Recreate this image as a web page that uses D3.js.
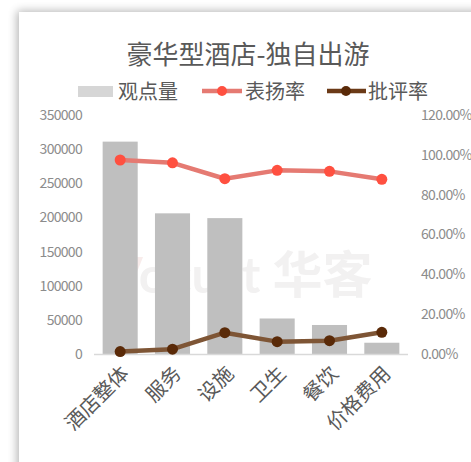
<!DOCTYPE html>
<html>
<head>
<meta charset="utf-8">
<script src="https://cdn.jsdelivr.net/npm/d3@7/dist/d3.min.js"></script>
<style>
  html, body { margin: 0; padding: 0; background: #fff; }
  svg { display: block; font-family: "Noto Sans CJK SC", "Noto Sans", sans-serif; }
</style>
</head>
<body>
<svg id="chart" width="471" height="462"></svg>
<script>
// Chart data
const categories = ["酒店整体", "服务", "设施", "卫生", "餐饮", "价格费用"];
const opinionCounts = [311000, 206000, 199000, 52000, 42500, 16500];
const praiseRates = [0.974, 0.960, 0.880, 0.922, 0.917, 0.877];
const criticismRates = [0.012, 0.024, 0.107, 0.062, 0.067, 0.109];
const leftTicks = [0, 50000, 100000, 150000, 200000, 250000, 300000, 350000];
const rightTicks = [0, 0.2, 0.4, 0.6, 0.8, 1.0, 1.2];
const titleText = "豪华型酒店-独自出游";
const legendLabels = ["观点量", "表扬率", "批评率"];

const svg = d3.select("#chart");

// Card with soft shadow
const defs = svg.append("defs");
const f = defs.append("filter").attr("id", "shadow")
  .attr("x", "-10%").attr("y", "-10%").attr("width", "130%").attr("height", "130%");
f.append("feGaussianBlur").attr("in", "SourceAlpha").attr("stdDeviation", 5).attr("result", "b");
f.append("feOffset").attr("in", "b").attr("dx", -2).attr("dy", -1).attr("result", "o");
f.append("feComponentTransfer").attr("in", "o").attr("result", "s")
  .append("feFuncA").attr("type", "linear").attr("slope", 0.3);
const m = f.append("feMerge");
m.append("feMergeNode").attr("in", "s");
m.append("feMergeNode").attr("in", "SourceGraphic");
svg.append("rect").attr("x", 19).attr("y", 12).attr("width", 480).attr("height", 480)
  .attr("fill", "#fff").attr("filter", "url(#shadow)");

const plot = { left: 94, right: 408, top: 115, bottom: 354 };

const x = d3.scaleBand().domain(categories).range([plot.left, plot.right])
  .paddingInner(0.33).paddingOuter(0.165);
const yL = d3.scaleLinear().domain([0, 350000]).range([plot.bottom, plot.top]);
const yR = d3.scaleLinear().domain([0, 1.2]).range([plot.bottom, plot.top]);

// Watermark
const wm = svg.append("text").attr("x", 108).attr("y", 293)
  .attr("font-family", "Lato, 'Noto Sans CJK SC', sans-serif").attr("font-weight", "bold")
  .attr("font-size", 50).attr("fill", "#f2f1f1");
wm.append("tspan").attr("fill", "#f8eceb").text("V");
wm.append("tspan").text("ocust 华客");

// Title
svg.append("text").attr("x", 248).attr("y", 64).attr("text-anchor", "middle")
  .attr("font-size", 26).attr("fill", "#595959").text(titleText);

// Legend
const lg = svg.append("g").attr("font-size", 20);
lg.append("rect").attr("x", 78).attr("y", 86).attr("width", 35).attr("height", 11).attr("fill", "#d6d6d6");
lg.append("text").attr("x", 118).attr("y", 99).attr("fill", "#595959").text(legendLabels[0]);
lg.append("line").attr("x1", 202).attr("x2", 242).attr("y1", 91).attr("y2", 91)
  .attr("stroke", "#e57a72").attr("stroke-width", 4.5);
lg.append("circle").attr("cx", 222).attr("cy", 91).attr("r", 5).attr("fill", "#ff5040");
lg.append("text").attr("x", 245).attr("y", 99).attr("fill", "#595959").text(legendLabels[1]);
lg.append("line").attr("x1", 327).attr("x2", 366).attr("y1", 91).attr("y2", 91)
  .attr("stroke", "#6b3a17").attr("stroke-width", 4.5);
lg.append("circle").attr("cx", 346).attr("cy", 91).attr("r", 5).attr("fill", "#5a2a08");
lg.append("text").attr("x", 368).attr("y", 99).attr("fill", "#595959").text(legendLabels[2]);

// Bars
svg.append("g").selectAll("rect").data(opinionCounts).join("rect")
  .attr("x", (d, i) => x(categories[i]))
  .attr("y", d => yL(d))
  .attr("width", x.bandwidth())
  .attr("height", d => yL(0) - yL(d))
  .attr("fill", "#bfbfbf");

// Left axis
const axL = svg.append("g").attr("transform", `translate(${plot.left - 10},0)`)
  .call(d3.axisLeft(yL).tickValues(leftTicks).tickSize(0).tickPadding(2).tickFormat(d3.format("d")));
axL.select(".domain").remove();
axL.selectAll("text").attr("font-size", 14).attr("fill", "#8c8c8c")
  .attr("font-family", "'Noto Sans CJK SC', sans-serif").attr("letter-spacing", "-0.7");

// Right axis
const axR = svg.append("g").attr("transform", `translate(${plot.right + 12},0)`)
  .call(d3.axisRight(yR).tickValues(rightTicks).tickSize(0).tickPadding(1).tickFormat(d3.format(".2%")));
axR.select(".domain").remove();
axR.selectAll("text").attr("font-size", 14).attr("fill", "#8c8c8c")
  .attr("font-family", "'Noto Sans CJK SC', sans-serif").attr("letter-spacing", "-0.7");

// Category axis line and labels slanted at 45 degrees
svg.append("line").attr("x1", plot.left).attr("x2", plot.right)
  .attr("y1", plot.bottom + 0.5).attr("y2", plot.bottom + 0.5)
  .attr("stroke", "#d9d9d9").attr("stroke-width", 1.5);
const labelG = svg.append("g").selectAll("g").data(categories).join("g")
  .attr("transform", d => `translate(${x(d) + x.bandwidth() / 2 + 5},${plot.bottom + 16})`);
labelG.append("text")
  .attr("transform", "rotate(-45)")
  .attr("text-anchor", "end").attr("dy", "0.35em")
  .attr("font-size", 20).attr("fill", "#595959").text(d => d);

// Rate lines with markers
const cx = (d, i) => x(categories[i]) + x.bandwidth() / 2;
function drawLine(values, lineColor, dotColor) {
  svg.append("path").datum(values)
    .attr("d", d3.line().x(cx).y(d => yR(d)))
    .attr("fill", "none").attr("stroke", lineColor).attr("stroke-width", 4.5)
    .attr("stroke-linejoin", "round");
  svg.append("g").selectAll("circle").data(values).join("circle")
    .attr("cx", cx).attr("cy", d => yR(d)).attr("r", 5.5).attr("fill", dotColor);
}
drawLine(praiseRates, "#e57a72", "#ff5040");
drawLine(criticismRates, "#7e5535", "#5a2a08");
</script>
</body>
</html>
